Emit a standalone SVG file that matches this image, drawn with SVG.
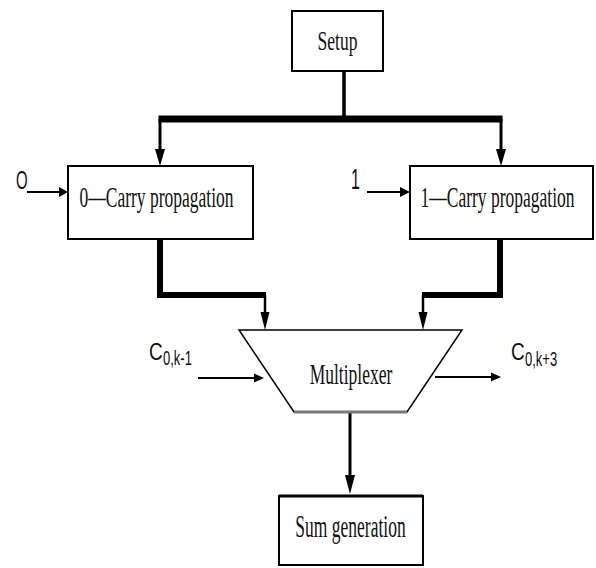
<svg xmlns="http://www.w3.org/2000/svg" width="596" height="568" viewBox="0 0 596 568">
<style>
.box{fill:#fff;stroke:#000;stroke-width:2}
.tm{font-family:"Liberation Serif","Times New Roman",serif;font-size:17.5px;fill:#111}
.ar{font-family:"Liberation Sans",Arial,sans-serif;fill:#111}
.ln{stroke:#000;fill:none}
.hd{fill:#000}
</style>
<rect width="596" height="568" fill="#fff"/>
<g id="connectors">
  <line class="ln" x1="344" y1="71" x2="344" y2="119" stroke-width="3.5"/>
  <line class="ln" x1="158.5" y1="119" x2="502.5" y2="119" stroke-width="7"/>
  <line class="ln" x1="160" y1="119" x2="160" y2="150" stroke-width="3"/>
  <polygon class="hd" points="155,149 165,149 160,166"/>
  <line class="ln" x1="501" y1="119" x2="501" y2="150" stroke-width="3"/>
  <polygon class="hd" points="496,149 506,149 501,166"/>
  <path class="ln" d="M160,233 V295 H266" stroke-width="6" stroke-linejoin="miter"/>
  <line class="ln" x1="265" y1="295" x2="265" y2="313" stroke-width="2.5"/>
  <polygon class="hd" points="260.5,312 269.5,312 265,330"/>
  <path class="ln" d="M500,237 V295 H422" stroke-width="6" stroke-linejoin="miter"/>
  <line class="ln" x1="423" y1="295" x2="423" y2="313" stroke-width="2.5"/>
  <polygon class="hd" points="418.5,312 427.5,312 423,330"/>
  <line class="ln" x1="27" y1="192" x2="60" y2="192" stroke-width="2"/>
  <polygon class="hd" points="59,187 59,197 68,192"/>
  <line class="ln" x1="367" y1="192" x2="401" y2="192" stroke-width="2"/>
  <polygon class="hd" points="400,187 400,197 410,192"/>
  <line class="ln" x1="198" y1="378" x2="255" y2="378" stroke-width="2"/>
  <polygon class="hd" points="254,373.5 254,382.5 264,378"/>
  <line class="ln" x1="435" y1="377" x2="492" y2="377" stroke-width="2"/>
  <polygon class="hd" points="491,372.5 491,381.5 501,377"/>
  <line class="ln" x1="350" y1="412" x2="350" y2="476" stroke-width="3"/>
  <polygon class="hd" points="345,475 355,475 350,494"/>
</g>
<g id="setup">
  <rect class="box" x="292" y="11" width="91" height="60" stroke-width="1.8"/>
  <text class="tm" text-anchor="middle" transform="translate(337.5,50) scale(1,1.6)">Setup</text>
</g>
<g id="carry0">
  <rect class="box" x="68" y="166" width="185" height="73"/>
  <text class="tm" text-anchor="middle" transform="translate(156.5,207) scale(1,1.7)">0—Carry propagation</text>
</g>
<g id="carry1">
  <rect class="box" x="410" y="166" width="183" height="73"/>
  <text class="tm" text-anchor="middle" transform="translate(497.5,207) scale(1,1.7)">1—Carry propagation</text>
</g>
<g id="in0">
  <text class="ar" font-size="15" transform="translate(16,189) scale(1,1.75)">O</text>
</g>
<g id="in1">
  <text class="ar" font-size="16" transform="translate(351,189) scale(1,1.8)">1</text>
</g>
<g id="mux">
  <polygon points="239,330 462,330 407,412 294,412" fill="#fff" stroke="#000" stroke-width="1.5"/>
  <line x1="294" y1="412" x2="407" y2="412" stroke="#777" stroke-width="3"/>
  <text class="tm" text-anchor="middle" transform="translate(351,384) scale(1,1.7)">Multiplexer</text>
</g>
<g id="cin">
  <text class="ar" font-size="19" transform="translate(149,360) scale(1,1.25)">C</text>
  <text class="ar" font-size="13" transform="translate(163,365) scale(1,1.6)">0,k-1</text>
</g>
<g id="cout">
  <text class="ar" font-size="19" transform="translate(511,360) scale(1,1.25)">C</text>
  <text class="ar" font-size="13" transform="translate(525,366) scale(1,1.6)">0,k+3</text>
</g>
<g id="sum">
  <rect class="box" x="279" y="496" width="144" height="69"/>
  <line x1="279" y1="496" x2="423" y2="496" stroke="#000" stroke-width="3"/>
  <text class="tm" text-anchor="middle" transform="translate(350.5,537) scale(1,1.75)">Sum generation</text>
</g>
</svg>
